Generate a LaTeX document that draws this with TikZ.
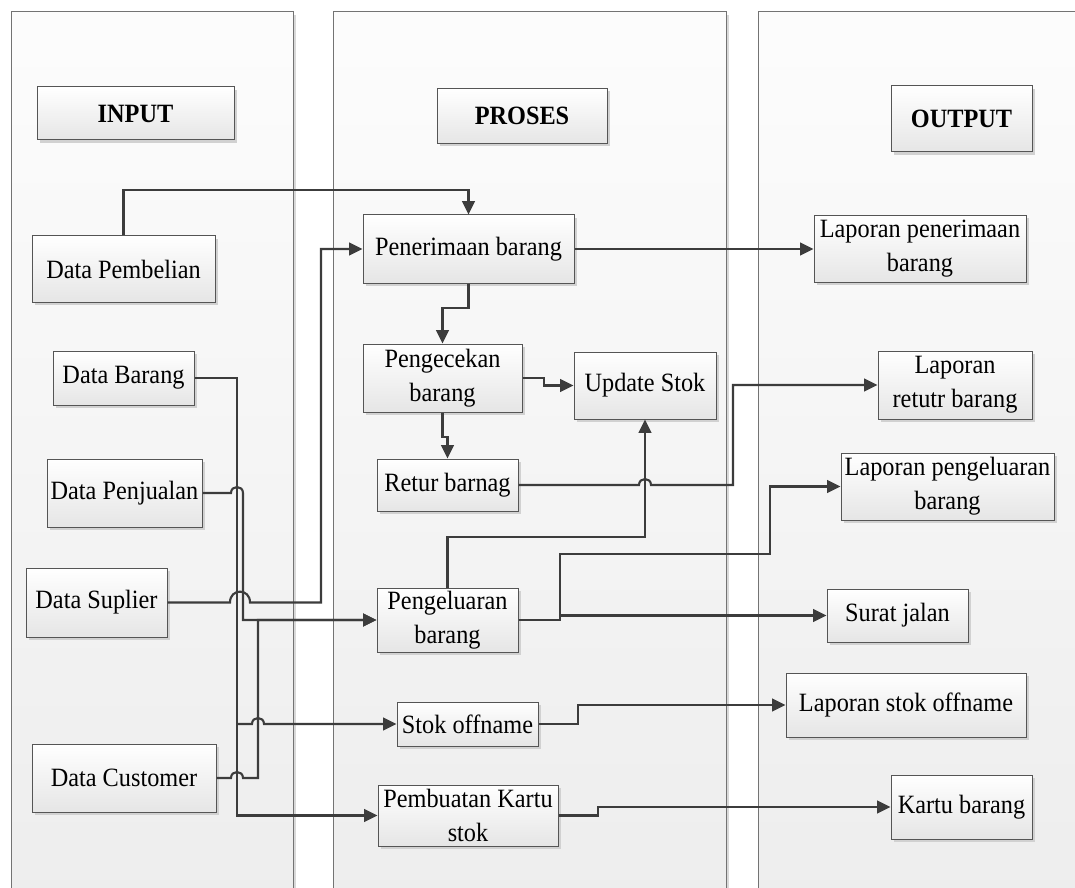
\documentclass[tikz,border=0pt]{standalone}
\usepackage{fontspec}
\setmainfont{Liberation Serif}[FakeStretch=0.92]
\usetikzlibrary{arrows.meta,shadows}
\definecolor{ln}{HTML}{3C3C3C}
\definecolor{bd}{HTML}{555555}
\begin{document}
\begin{tikzpicture}[x=0.75pt,y=-0.75pt,
  sz/.style 2 args={minimum width=#1*0.75pt, minimum height=#2*0.75pt},
  box/.style={draw=bd, line width=0.75pt, top color=white, bottom color=black!10,
    drop shadow={shadow xshift=2.2pt,shadow yshift=-2.2pt,fill=black!18,opacity=1},
    inner sep=0pt, align=center, font=\fontsize{19.8}{25.5}\selectfont},
  hdr/.style={box, font=\fontsize{19.8}{25.5}\selectfont\bfseries},
  lane/.style={draw=black!55, line width=0.75pt, top color=black!1, bottom color=black!7,
    drop shadow={shadow xshift=2pt,shadow yshift=-2pt,fill=black!15,opacity=1}},
  conn/.style={draw=ln, line width=1.6pt, -{Triangle[length=10pt,width=9.5pt]}},
]
\useasboundingbox (0,0) rectangle (1075,888);
\clip (0,0) rectangle (1075,888);
\fill[white] (0,0) rectangle (1075,888);
% lanes
\path[lane] (11,12) rectangle (293,900);
\path[lane] (333,12) rectangle (726,900);
\path[lane] (758,12) rectangle (1100,900);

% headers
\node[hdr, sz={197}{53}] (hin) at (135.5,113.5) {INPUT};
\node[hdr, sz={170}{55}] (hpr) at (522,116) {PROSES};
\node[hdr, sz={141}{66}] (hout) at (961.5,119) {OUTPUT};

% inputs
\node[box, sz={183}{66}] (dpem) at (123.5,269) {Data Pembelian};
\node[box, sz={141}{54}] (dbar) at (123.5,378) {Data Barang};
\node[box, sz={155}{68}] (dpen) at (124.5,493) {Data Penjualan};
\node[box, sz={141}{69}] (dsup) at (96.5,602.5) {Data Suplier};
\node[box, sz={184}{68}] (dcus) at (124,778) {Data Customer};

% process
\node[box, sz={211}{68}] (pen) at (468.5,249) {Penerimaan barang};
\node[box, sz={159}{68}] (cek) at (442.5,378) {Pengecekan\\barang};
\node[box, sz={142}{67}] (upd) at (645,385.5) {Update Stok};
\node[box, sz={141}{52}] (ret) at (447.5,485) {Retur barnag};
\node[box, sz={141}{64}] (kel) at (447.5,620) {Pengeluaran\\barang};
\node[box, sz={141}{44}] (sop) at (467.5,724) {Stok offname};
\node[box, sz={180}{61}] (kar) at (468,815.5) {Pembuatan Kartu\\stok};

% outputs
\node[box, sz={212}{67}] (lpen) at (920,249) {Laporan penerimaan\\barang};
\node[box, sz={154}{68}] (lret) at (955,385) {Laporan\\retutr barang};
\node[box, sz={213}{67}] (lkel) at (947.5,486.5) {Laporan pengeluaran\\barang};
\node[box, sz={141}{53}] (sj) at (897.5,615.5) {Surat jalan};
\node[box, sz={240}{64}] (lsop) at (906,705) {Laporan stok offname};
\node[box, sz={141}{64}] (kb) at (961.5,807) {Kartu barang};

% connectors
\draw[conn] (dpem.north) -- (123.5,190) -| (pen.north);
\draw[conn] (dsup.east) -- (230,602.5) .. controls (230,588) and (250,588) .. (250,602.5) -- (321,602.5) |- (pen.west);
\draw[conn] (dbar.east) -- (237,378) |- (kar.west);
\coordinate (brS) at (237,724);
\draw[conn] (brS) -- (252,724) .. controls (252,716) and (264,716) .. (264,724) -- (sop.west);
\draw[conn] (dpen.east) -- (231,493) .. controls (231,485) and (243,485) .. (243,493) |- (kel.west);
\draw[conn] (dcus.east) -- (231,778) .. controls (231,770) and (243,770) .. (243,778) -- (258,778) |- (kel.west);

\draw[conn] (pen.south) -- (468.5,308) -| (cek.north);
\draw[conn] (cek.east) -- (544,378) |- (upd.west);
\draw[conn] (cek.south) -- (442.5,437) -| (ret.north);
\draw[conn] (ret.east) -- (639,485) .. controls (639,477) and (651,477) .. (651,485) -- (733,485) |- (lret.west);
\draw[conn] (kel.north) -- (447.5,537) -| (upd.south);
\draw[conn] (kel.east) -- (560,620) -- (560,554) -- (770,554) |- (lkel.west);
\draw[conn] (kel.east) -- (560,620) -- (560,615.5) -- (sj.west);
\draw[conn] (pen.east) -- (lpen.west);
\draw[conn] (sop.east) -- (578,724) |- (lsop.west);
\draw[conn] (kar.east) -- (598,815.5) |- (kb.west);
\end{tikzpicture}
\end{document}
